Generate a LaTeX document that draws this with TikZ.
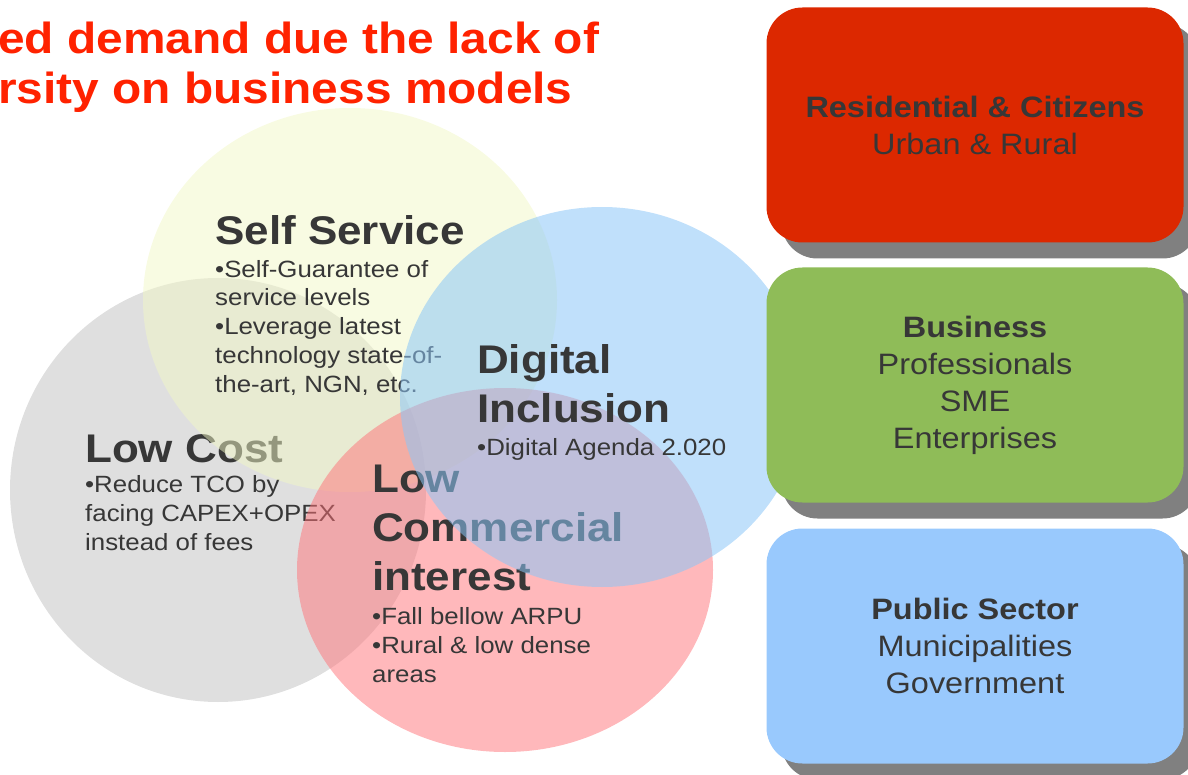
\documentclass[tikz,border=0pt]{standalone}
\usepackage{fontspec}
\setmainfont{Liberation Sans}[FakeStretch=1.1]
\usetikzlibrary{shadows}

\definecolor{titlered}{RGB}{255,34,0}
\definecolor{textgray}{RGB}{55,55,55}
\definecolor{costgray}{RGB}{192,192,192}
\definecolor{serviceyellow}{RGB}{241,247,197}
\definecolor{commred}{RGB}{255,113,119}
\definecolor{digitalblue}{RGB}{140,198,247}
\definecolor{citizenred}{RGB}{220,40,0}
\definecolor{businessgreen}{RGB}{143,188,88}
\definecolor{publicblue}{RGB}{153,201,253}
\definecolor{shadowgray}{RGB}{128,128,128}

\begin{document}
\begin{tikzpicture}[x=1pt, y=-1pt,
    heading/.style={anchor=base west, align=left, inner sep=0pt, text=textgray,
      font=\fontsize{40}{49}\selectfont\bfseries},
    bullets/.style={anchor=base west, align=left, inner sep=0pt, text=textgray,
      font=\fontsize{23.5}{28.7}\selectfont},
    segbox/.style={fill=#1, rounded corners=36pt, minimum width=417pt, minimum height=235pt,
      align=center, text=textgray, font=\fontsize{29.5}{37}\selectfont,
      drop shadow={shadow xshift=15pt, shadow yshift=-16pt, fill=shadowgray, opacity=1}}]
    \clip (0,0) rectangle (1188,775);

    % Low cost
    \fill[costgray, opacity=0.5] (218,490) ellipse [x radius=208pt, y radius=212pt];
    \node[heading] (costhead) at (85,462) {Low Cost};
    \node[bullets] (costtext) at (85,550) {•Reduce TCO by\\facing CAPEX+OPEX\\instead of fees};

    % Self service
    \fill[serviceyellow, opacity=0.5] (350,300) ellipse [x radius=207pt, y radius=192pt];
    \node[heading] (servhead) at (215,245) {Self Service};
    \node[bullets] (servtext) at (215,392) {•Self-Guarantee of\\service levels\\•Leverage latest\\technology state-of-\\the-art, NGN, etc.};

    % Low commercial interest
    \fill[commred, opacity=0.5] (505,570) ellipse [x radius=208pt, y radius=182pt];
    \node[heading] (commhead) at (372,590) {Low\\Commercial\\interest};
    \node[bullets] (commtext) at (372,682) {•Fall bellow ARPU\\•Rural \& low dense\\areas};

    % Digital inclusion
    \fill[digitalblue, opacity=0.55] (602,397) ellipse [x radius=202pt, y radius=190pt];
    \node[heading] (dighead) at (477,422) {Digital\\Inclusion};
    \node[bullets] (digtext) at (477,455) {•Digital Agenda 2.020};

    % Segments
    \node[segbox=citizenred] (citizens) at (975,125) {\textbf{Residential \& Citizens}\\Urban \& Rural};
    \node[segbox=businessgreen] (business) at (975,385) {\textbf{Business}\\Professionals\\SME\\Enterprises};
    \node[segbox=publicblue] (public) at (975,646) {\textbf{Public Sector}\\Municipalities\\ Government};

    % Title
    \node[anchor=base west, align=left, inner sep=0pt, text=titlered,
      font=\fontsize{43.5}{50}\selectfont\bfseries] (title) at (-2,104)
      {ed demand due the lack of\\rsity on business models};
\end{tikzpicture}
\end{document}
